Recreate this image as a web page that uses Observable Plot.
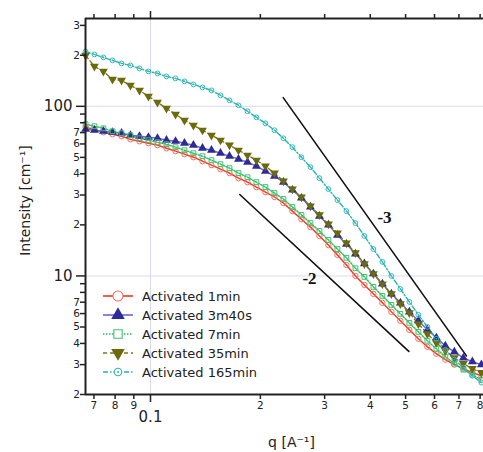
<!DOCTYPE html>
<html><head><meta charset="utf-8">
<script src="https://cdn.jsdelivr.net/npm/d3@7"></script>
<script src="https://cdn.jsdelivr.net/npm/@observablehq/plot@0.6"></script>
<style>
body{margin:0;background:#fff;}
#wrap{position:relative;width:483px;height:452px;font-family:"DejaVu Sans",sans-serif;}
#wrap svg.overlay{position:absolute;left:0;top:0;pointer-events:none;}
</style></head><body><div id="wrap"></div>
<script>
// ---- data ----
const q = [0.0664,0.0702,0.0743,0.0787,0.0833,0.0881,0.0933,0.0987,0.1045,0.1106,0.1171,0.1239,0.1311,0.1388,0.1469,0.1555,0.1646,0.1742,0.1844,0.1951,0.2065,0.2186,0.2313,0.2448,0.2591,0.2743,0.2903,0.3072,0.3252,0.3442,0.3643,0.3855,0.4080,0.4319,0.4571,0.4838,0.5120,0.5419,0.5736,0.6071,0.6425,0.6800,0.7198,0.7618,0.8063];
const act1min = [75.2,73.2,70.3,68.4,66.6,63.9,62.2,60.6,59.0,56.6,54.4,52.2,50.1,47.5,45.0,42.6,40.4,37.7,35.7,33.4,31.2,29.2,26.9,24.1,21.6,19.4,17.2,15.2,13.3,11.6,10.0,8.85,7.84,6.94,6.14,5.44,4.81,4.26,3.82,3.48,3.21,3.00,2.84,2.69,2.58];
const act3m40s = [73.2,72.3,71.3,70.3,69.4,67.5,66.6,65.7,64.8,63.1,62.2,60.6,59.0,56.6,55.1,52.9,50.8,48.8,46.8,44.4,41.5,38.7,35.7,32.1,28.8,25.5,22.5,20.0,17.4,15.4,13.5,11.8,10.3,8.97,7.84,6.94,6.14,5.44,4.81,4.32,3.87,3.57,3.29,3.12,3.00];
const act7min = [78.4,76.3,74.2,71.3,69.4,67.5,64.8,63.1,61.4,59.8,57.4,55.1,52.9,50.8,48.1,45.6,43.2,40.4,38.2,35.7,33.4,30.8,28.4,25.5,22.9,20.5,18.4,16.3,14.4,12.8,11.1,9.87,8.62,7.63,6.75,5.98,5.29,4.68,4.15,3.72,3.34,3.04,2.80,2.62,2.44];
const act35min = [199.5,171.9,160.7,144.1,142.2,132.9,124.2,114.5,105.6,97.3,89.7,82.7,77.3,72.3,67.5,63.1,59.0,55.1,51.5,48.1,44.4,40.4,36.2,32.5,29.2,25.8,22.9,20.2,17.9,15.6,13.7,11.8,10.3,8.97,7.84,6.84,6.06,5.22,4.56,4.04,3.62,3.29,3.04,2.84,2.69];
const act165min = [210.6,202.2,194.2,186.5,179.0,174.3,167.3,160.6,156.3,150.1,146.1,140.3,134.7,129.3,124.2,116.1,108.5,101.4,93.5,86.1,79.4,72.3,64.8,57.4,50.1,43.8,37.7,32.5,28.0,24.1,20.5,17.2,14.4,12.1,10.0,8.38,7.03,5.90,5.01,4.26,3.67,3.21,2.88,2.58,2.35];
const seriesNames = ["Activated 1min","Activated 3m40s","Activated 7min","Activated 35min","Activated 165min"];
const seriesValues = [act1min, act3m40s, act7min, act35min, act165min];

// guide lines (power-law slopes) and their labels
const slope3Q = [0.231, 0.734];
const slope3I = [112.5, 3.38];
const slope2Q = [0.1756, 0.5102];
const slope2I = [30.2, 3.59];
const slopeLabels = ["-3", "-2"];
const slopeLabelQ = [0.4377, 0.2727];
const slopeLabelI = [22.2, 9.6];

// axes
const xDomain = [0.06636, 0.8173];
const yDomain = [2, 329.4];
const xMajorTicks = [0.1];
const xMinorTicks = [0.07,0.08,0.09,0.2,0.3,0.4,0.5,0.6,0.7,0.8];
const yMajorTicks = [10, 100];
const yMinorLabeled = [2,3,4,5,6,7,20,30,40,50,60,70,200,300];
const yMinorUnlabeled = [8,9,80,90];
const xGrid = [0.1];
const yGrid = [10, 100];

// ---- styles ----
const triangleDown = {
  draw(context, size) {
    const y = -Math.sqrt(size / (Math.sqrt(3) * 3));
    context.moveTo(0, -y * 2);
    context.lineTo(-Math.sqrt(3) * y, y);
    context.lineTo(Math.sqrt(3) * y, y);
    context.closePath();
  }
};
const styles = [
  {line:"#f2361f", mark:"#f5705f", dash:null, symbol:"circle", fill:"none", r:2.7, lsize:80},
  {line:"#6a66cc", mark:"#2e2a98", dash:null, symbol:"triangle", fill:"#2e2a98", r:3.3, lsize:80},
  {line:"#1fc155", mark:"#45bf70", dash:"1.5,1.5", symbol:"square", fill:"none", r:2.7, lsize:70},
  {line:"#7a790f", mark:"#6b6a0c", dash:"4,3", symbol:triangleDown, fill:"#6b6a0c", r:3.3, lsize:80},
  {line:"#25b3b3", mark:"#36b8b8", dash:"5,2,1.5,2", symbol:"circle", fill:"none", r:2.4, lsize:45, center:true}
];

const series = seriesValues.map((vals, s) => vals.map((v, i) => ({q: q[i], I: v, name: seriesNames[s]})));
const slope3 = slope3Q.map((d, i) => ({q: d, I: slope3I[i]}));
const slope2 = slope2Q.map((d, i) => ({q: d, I: slope2I[i]}));
const labels = slopeLabels.map((t, i) => ({q: slopeLabelQ[i], I: slopeLabelI[i], t}));

const pow10fmt = d => String(Math.round(d / Math.pow(10, Math.floor(Math.log10(d) + 1e-9))));
const blank = () => "";

const marks = [
  Plot.ruleX(xGrid, {stroke:"#d9d9f2", strokeWidth:1}),
  Plot.ruleY(yGrid, {stroke:"#d9d9f2", strokeWidth:1}),
];
series.forEach((data, s) => {
  const st = styles[s];
  marks.push(Plot.line(data, {x:"q", y:"I", stroke:st.line, strokeWidth:1.4, strokeDasharray:st.dash}));
});
series.forEach((data, s) => {
  const st = styles[s];
  marks.push(Plot.dot(data, {x:"q", y:"I", symbol:st.symbol, r:st.r, stroke: st.fill === "none" ? st.mark : "none", fill: st.fill, strokeWidth:1}));
  if (st.center) marks.push(Plot.dot(data, {x:"q", y:"I", r:0.8, fill:st.mark}));
});
marks.push(
  Plot.line(slope3, {x:"q", y:"I", stroke:"#111", strokeWidth:1.6}),
  Plot.line(slope2, {x:"q", y:"I", stroke:"#111", strokeWidth:1.6}),
  Plot.text(labels, {x:"q", y:"I", text:"t", fontFamily:"Liberation Serif", fontWeight:"bold", fontSize:17, fill:"#111"}),
  // axis lines
  Plot.ruleX([xDomain[0]], {stroke:"#222", strokeWidth:2}),
  Plot.ruleY([yDomain[0]], {stroke:"#222", strokeWidth:2}),
  Plot.ruleY([yDomain[1]], {stroke:"#222", strokeWidth:2}),
  // y axis ticks
  Plot.axisY(yMajorTicks, {anchor:"left", tickSize:9, tickFormat:blank, label:null, stroke:"#222", strokeWidth:1.5}),
  Plot.axisY(yMinorLabeled.concat(yMinorUnlabeled), {anchor:"left", tickSize:5, tickFormat:blank, label:null, stroke:"#222", strokeWidth:1.5}),
  // y tick labels
  Plot.text(yMajorTicks, {y:d => d, text:d => String(d), frameAnchor:"left", textAnchor:"end", dx:-13, fontSize:15, fill:"#222"}),
  Plot.text(yMinorLabeled, {y:d => d, text:pow10fmt, frameAnchor:"left", textAnchor:"end", dx:-5.5, fontSize:10.5, fill:"#222"}),
  // x axis ticks bottom & top
  Plot.axisX(xMajorTicks, {anchor:"bottom", tickSize:8, tickFormat:blank, label:null, stroke:"#222", strokeWidth:1.5}),
  Plot.axisX(xMinorTicks, {anchor:"bottom", tickSize:5, tickFormat:blank, label:null, stroke:"#222", strokeWidth:1.5}),
  Plot.axisX(xMajorTicks, {anchor:"top", tickSize:8, tickFormat:blank, label:null, stroke:"#222", strokeWidth:1.5}),
  Plot.axisX(xMinorTicks, {anchor:"top", tickSize:5, tickFormat:blank, label:null, stroke:"#222", strokeWidth:1.5}),
  // x tick labels
  Plot.text(xMajorTicks, {x:d => d, text:d => String(d), frameAnchor:"bottom", lineAnchor:"top", dy:17, fontSize:15, fill:"#222"}),
  Plot.text(xMinorTicks, {x:d => d, text:pow10fmt, frameAnchor:"bottom", lineAnchor:"top", dy:7, fontSize:10.5, fill:"#222"}),
  // axis titles
  Plot.text(["Intensity [cm\u207B\u00B9]"], {frameAnchor:"left", textAnchor:"middle", lineAnchor:"middle", dx:-60, dy:-6, rotate:-90, fontSize:14, fill:"#222"}),
  Plot.text(["q [A\u207B\u00B9]"], {frameAnchor:"bottom", textAnchor:"middle", lineAnchor:"middle", dx:7, dy:48, fontSize:14, fill:"#222"})
);

const chart = Plot.plot({
  width: 483, height: 452,
  marginLeft: 85, marginRight: 0, marginTop: 18, marginBottom: 58,
  x: {type:"log", domain:xDomain},
  y: {type:"log", domain:yDomain},
  style: {fontFamily:'"DejaVu Sans", sans-serif', color:"#222", background:"#fff", overflow:"visible"},
  marks
});
const wrap = document.getElementById("wrap");
wrap.appendChild(chart);

// ---- legend overlay ----
const leg = d3.select(wrap).append("svg").attr("class","overlay").attr("width",483).attr("height",452);
seriesNames.forEach((name, i) => {
  const st = styles[i];
  const y = 296 + i * 19;
  leg.append("line").attr("x1",103).attr("x2",133).attr("y1",y).attr("y2",y)
    .attr("stroke", st.line).attr("stroke-width",1.6).attr("stroke-dasharray", st.dash || null);
  const type = typeof st.symbol === "string" ? ({circle:d3.symbolCircle, triangle:d3.symbolTriangle, square:d3.symbolSquare})[st.symbol] : st.symbol;
  leg.append("path").attr("transform",`translate(118,${y})`)
    .attr("d", d3.symbol().type(type).size(st.lsize)())
    .attr("fill", st.fill === "none" ? "#fff" : st.fill)
    .attr("stroke", st.fill === "none" ? st.mark : "none").attr("stroke-width",1.1);
  if (st.center) leg.append("circle").attr("cx",118).attr("cy",y).attr("r",1).attr("fill",st.mark);
  leg.append("text").attr("x",142).attr("y",y+5).attr("font-size",13)
    .attr("font-family",'"DejaVu Sans", sans-serif').attr("fill","#222").text(name);
});
</script>
</body></html>
